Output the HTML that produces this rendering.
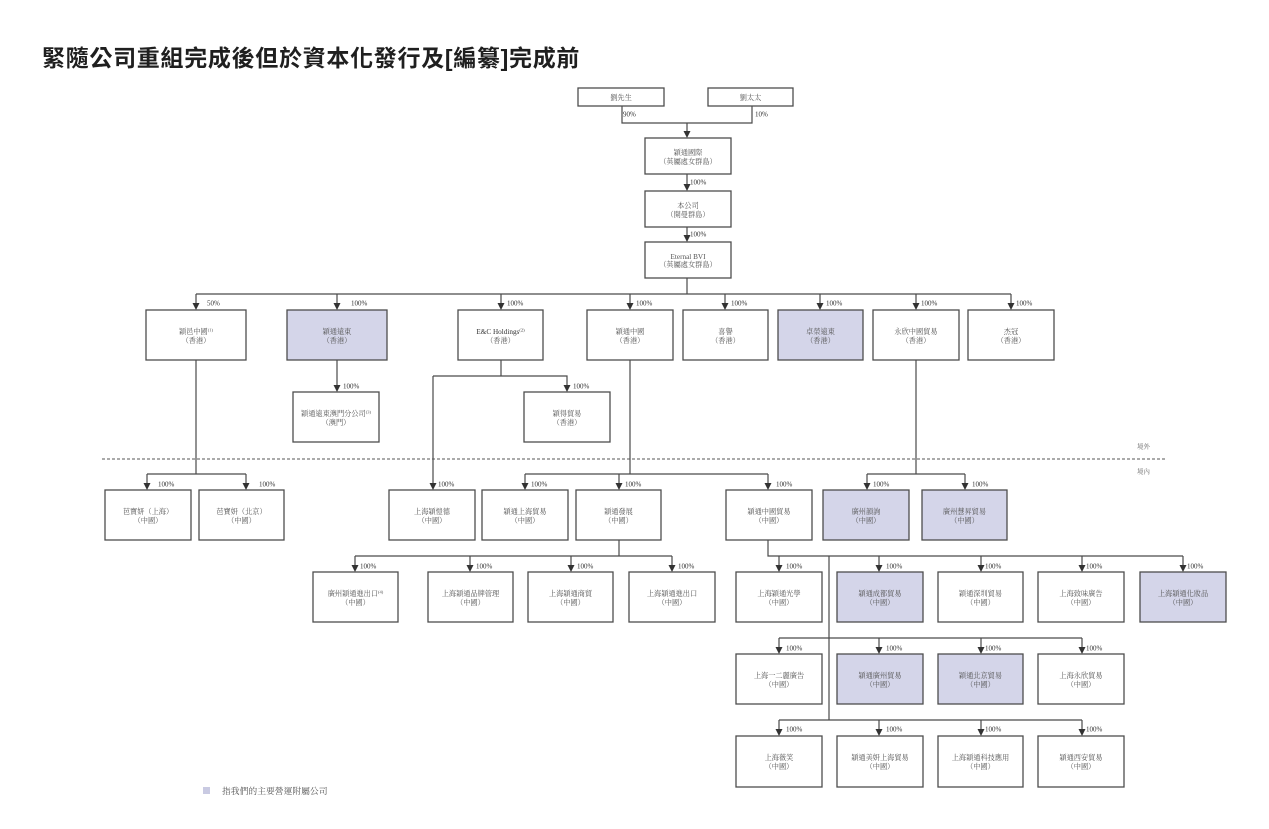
<!DOCTYPE html>
<html>
<head>
<meta charset="utf-8">
<style>
html,body{margin:0;padding:0;background:#fff;}
svg{display:block;}
.t{font-family:"Liberation Serif","Noto Serif CJK TC","Noto Serif CJK SC",serif;font-size:7.2px;fill:#555;text-anchor:middle;}
.p{font-family:"Liberation Serif","Noto Serif CJK SC",serif;font-size:7px;fill:#333;}
.z{font-family:"Liberation Serif","Noto Serif CJK TC","Noto Serif CJK SC",serif;font-size:6.5px;fill:#666;}
.b{fill:#fff;stroke:#4d4d4d;stroke-width:1.3;}
.s{fill:#d4d5e9;stroke:#4d4d4d;stroke-width:1.3;}
.l{fill:none;stroke:#4a4a4a;stroke-width:1.2;}
.a{fill:#333;}
</style>
</head>
<body>
<svg width="1269" height="829" viewBox="0 0 1269 829" xmlns="http://www.w3.org/2000/svg">
<rect width="1269" height="829" fill="#fff"/>
<text x="42" y="66" style="font-family:'Liberation Sans','Noto Sans CJK TC',sans-serif;font-weight:bold;font-size:23px;letter-spacing:0.7px;fill:#1f1f1f;">緊隨公司重組完成後但於資本化發行及[編纂]完成前</text>

<!-- connector lines -->
<path class="l" d="M622 106V123H752V106 M687 123V131 M687 174V184 M687 227V235 M687 278V294 M196 294H1011
M196 294V303 M337 294V303 M501 294V303 M630 294V303 M725 294V303 M820 294V303 M916 294V303 M1011 294V303
M337 360V385 M501 360V376 M433 376H567V385 M433 376V483
M196 360V474 M147 474H246 M147 474V483 M246 474V483
M630 360V474 M525 474H768 M525 474V483 M619 474V483 M768 474V483
M916 360V474 M867 474H965 M867 474V483 M965 474V483
M619 540V556 M355 556H672 M355 556V565 M470 556V565 M571 556V565 M672 556V565
M768 540V556H1183 M779 556V565 M879 556V565 M981 556V565 M1082 556V565 M1183 556V565
M829 556V720
M779 638H1082 M779 638V647 M879 638V647 M981 638V647 M1082 638V647
M779 720H1082 M779 720V729 M879 720V729 M981 720V729 M1082 720V729"/>

<!-- dashed line -->
<line x1="102" y1="459" x2="1167" y2="459" stroke="#555" stroke-width="1" stroke-dasharray="3,2"/>
<text class="z" x="1137" y="448.5">境外</text>
<text class="z" x="1137" y="473.5">境內</text>

<!-- arrowheads -->
<g class="a">
<polygon points="683.5,131 690.5,131 687,138"/>
<polygon points="683.5,184 690.5,184 687,191"/>
<polygon points="683.5,235 690.5,235 687,242"/>
<polygon points="192.5,303 199.5,303 196,310"/>
<polygon points="333.5,303 340.5,303 337,310"/>
<polygon points="497.5,303 504.5,303 501,310"/>
<polygon points="626.5,303 633.5,303 630,310"/>
<polygon points="721.5,303 728.5,303 725,310"/>
<polygon points="816.5,303 823.5,303 820,310"/>
<polygon points="912.5,303 919.5,303 916,310"/>
<polygon points="1007.5,303 1014.5,303 1011,310"/>
<polygon points="333.5,385 340.5,385 337,392"/>
<polygon points="563.5,385 570.5,385 567,392"/>
<polygon points="429.5,483 436.5,483 433,490"/>
<polygon points="143.5,483 150.5,483 147,490"/>
<polygon points="242.5,483 249.5,483 246,490"/>
<polygon points="521.5,483 528.5,483 525,490"/>
<polygon points="615.5,483 622.5,483 619,490"/>
<polygon points="764.5,483 771.5,483 768,490"/>
<polygon points="863.5,483 870.5,483 867,490"/>
<polygon points="961.5,483 968.5,483 965,490"/>
<polygon points="351.5,565 358.5,565 355,572"/>
<polygon points="466.5,565 473.5,565 470,572"/>
<polygon points="567.5,565 574.5,565 571,572"/>
<polygon points="668.5,565 675.5,565 672,572"/>
<polygon points="775.5,565 782.5,565 779,572"/>
<polygon points="875.5,565 882.5,565 879,572"/>
<polygon points="977.5,565 984.5,565 981,572"/>
<polygon points="1078.5,565 1085.5,565 1082,572"/>
<polygon points="1179.5,565 1186.5,565 1183,572"/>
<polygon points="775.5,647 782.5,647 779,654"/>
<polygon points="875.5,647 882.5,647 879,654"/>
<polygon points="977.5,647 984.5,647 981,654"/>
<polygon points="1078.5,647 1085.5,647 1082,654"/>
<polygon points="775.5,729 782.5,729 779,736"/>
<polygon points="875.5,729 882.5,729 879,736"/>
<polygon points="977.5,729 984.5,729 981,736"/>
<polygon points="1078.5,729 1085.5,729 1082,736"/>
</g>

<!-- percentage labels -->
<g class="p">
<text x="623" y="116.5">90%</text>
<text x="755" y="116.5">10%</text>
<text x="690" y="184.5">100%</text>
<text x="690" y="236.5">100%</text>
<text x="207" y="305.5">50%</text>
<text x="351" y="305.5">100%</text>
<text x="507" y="305.5">100%</text>
<text x="636" y="305.5">100%</text>
<text x="731" y="305.5">100%</text>
<text x="826" y="305.5">100%</text>
<text x="921" y="305.5">100%</text>
<text x="1016" y="305.5">100%</text>
<text x="343" y="388.5">100%</text>
<text x="573" y="388.5">100%</text>
<text x="158" y="486.5">100%</text>
<text x="259" y="486.5">100%</text>
<text x="438" y="486.5">100%</text>
<text x="531" y="486.5">100%</text>
<text x="625" y="486.5">100%</text>
<text x="776" y="486.5">100%</text>
<text x="873" y="486.5">100%</text>
<text x="972" y="486.5">100%</text>
<text x="360" y="568.5">100%</text>
<text x="476" y="568.5">100%</text>
<text x="577" y="568.5">100%</text>
<text x="678" y="568.5">100%</text>
<text x="786" y="568.5">100%</text>
<text x="886" y="568.5">100%</text>
<text x="985" y="568.5">100%</text>
<text x="1086" y="568.5">100%</text>
<text x="1187" y="568.5">100%</text>
<text x="786" y="650.5">100%</text>
<text x="886" y="650.5">100%</text>
<text x="985" y="650.5">100%</text>
<text x="1086" y="650.5">100%</text>
<text x="786" y="731.5">100%</text>
<text x="886" y="731.5">100%</text>
<text x="985" y="731.5">100%</text>
<text x="1086" y="731.5">100%</text>
</g>

<!-- boxes -->
<rect class="b" x="578" y="88" width="86" height="18"/>
<text class="t" x="621" y="100">劉先生</text>
<rect class="b" x="708" y="88" width="85" height="18"/>
<text class="t" x="750.5" y="100">劉太太</text>

<rect class="b" x="645" y="138" width="86" height="36"/>
<text class="t" x="688" y="155">穎通國際</text>
<text class="t" x="688" y="164">（英屬處女群島）</text>
<rect class="b" x="645" y="191" width="86" height="36"/>
<text class="t" x="688" y="208">本公司</text>
<text class="t" x="688" y="217">（開曼群島）</text>
<rect class="b" x="645" y="242" width="86" height="36"/>
<text class="t" x="688" y="259">Eternal BVI</text>
<text class="t" x="688" y="267">（英屬處女群島）</text>

<!-- row 2 -->
<rect class="b" x="146" y="310" width="100" height="50"/>
<text class="t" x="196" y="334">穎邑中國<tspan font-size="4.5" dy="-2.5">(1)</tspan></text>
<text class="t" x="196" y="343">（香港）</text>
<rect class="s" x="287" y="310" width="100" height="50"/>
<text class="t" x="337" y="334">穎通遠東</text>
<text class="t" x="337" y="343">（香港）</text>
<rect class="b" x="458" y="310" width="85" height="50"/>
<text class="t" x="500.5" y="334" style="fill:#333">E&amp;C Holdings<tspan font-size="4.5" dy="-2.5">(2)</tspan></text>
<text class="t" x="500.5" y="343">（香港）</text>
<rect class="b" x="587" y="310" width="86" height="50"/>
<text class="t" x="630" y="334">穎通中國</text>
<text class="t" x="630" y="343">（香港）</text>
<rect class="b" x="683" y="310" width="85" height="50"/>
<text class="t" x="725.5" y="334">喜譽</text>
<text class="t" x="725.5" y="343">（香港）</text>
<rect class="s" x="778" y="310" width="85" height="50"/>
<text class="t" x="820.5" y="334">卓榮遠東</text>
<text class="t" x="820.5" y="343">（香港）</text>
<rect class="b" x="873" y="310" width="86" height="50"/>
<text class="t" x="916" y="334">永欣中國貿易</text>
<text class="t" x="916" y="343">（香港）</text>
<rect class="b" x="968" y="310" width="86" height="50"/>
<text class="t" x="1011" y="334">杰冠</text>
<text class="t" x="1011" y="343">（香港）</text>

<!-- row 2.5 -->
<rect class="b" x="293" y="392" width="86" height="50"/>
<text class="t" x="336" y="416">穎通遠東澳門分公司<tspan font-size="4.5" dy="-2.5">(3)</tspan></text>
<text class="t" x="336" y="425">（澳門）</text>
<rect class="b" x="524" y="392" width="86" height="50"/>
<text class="t" x="567" y="416">穎得貿易</text>
<text class="t" x="567" y="425">（香港）</text>

<!-- row 3 -->
<rect class="b" x="105" y="490" width="86" height="50"/>
<text class="t" x="148" y="514">芭寶妍（上海）</text>
<text class="t" x="148" y="523">（中國）</text>
<rect class="b" x="199" y="490" width="85" height="50"/>
<text class="t" x="241.5" y="514">芭寶妍（北京）</text>
<text class="t" x="241.5" y="523">（中國）</text>
<rect class="b" x="389" y="490" width="86" height="50"/>
<text class="t" x="432" y="514">上海穎愷德</text>
<text class="t" x="432" y="523">（中國）</text>
<rect class="b" x="482" y="490" width="86" height="50"/>
<text class="t" x="525" y="514">穎通上海貿易</text>
<text class="t" x="525" y="523">（中國）</text>
<rect class="b" x="576" y="490" width="85" height="50"/>
<text class="t" x="618.5" y="514">穎通發展</text>
<text class="t" x="618.5" y="523">（中國）</text>
<rect class="b" x="726" y="490" width="86" height="50"/>
<text class="t" x="769" y="514">穎通中國貿易</text>
<text class="t" x="769" y="523">（中國）</text>
<rect class="s" x="823" y="490" width="86" height="50"/>
<text class="t" x="866" y="514">廣州韻詢</text>
<text class="t" x="866" y="523">（中國）</text>
<rect class="s" x="922" y="490" width="85" height="50"/>
<text class="t" x="964.5" y="514">廣州慧昇貿易</text>
<text class="t" x="964.5" y="523">（中國）</text>

<!-- row 4 -->
<rect class="b" x="313" y="572" width="85" height="50"/>
<text class="t" x="355.5" y="596">廣州穎通進出口<tspan font-size="4.5" dy="-2.5">(4)</tspan></text>
<text class="t" x="355.5" y="605">（中國）</text>
<rect class="b" x="428" y="572" width="85" height="50"/>
<text class="t" x="470.5" y="596">上海穎通品牌管理</text>
<text class="t" x="470.5" y="605">（中國）</text>
<rect class="b" x="528" y="572" width="85" height="50"/>
<text class="t" x="570.5" y="596">上海穎通商貿</text>
<text class="t" x="570.5" y="605">（中國）</text>
<rect class="b" x="629" y="572" width="86" height="50"/>
<text class="t" x="672" y="596">上海穎通進出口</text>
<text class="t" x="672" y="605">（中國）</text>
<rect class="b" x="736" y="572" width="86" height="50"/>
<text class="t" x="779" y="596">上海穎通光學</text>
<text class="t" x="779" y="605">（中國）</text>
<rect class="s" x="837" y="572" width="86" height="50"/>
<text class="t" x="880" y="596">穎通成都貿易</text>
<text class="t" x="880" y="605">（中國）</text>
<rect class="b" x="938" y="572" width="85" height="50"/>
<text class="t" x="980.5" y="596">穎通深圳貿易</text>
<text class="t" x="980.5" y="605">（中國）</text>
<rect class="b" x="1038" y="572" width="86" height="50"/>
<text class="t" x="1081" y="596">上海致味廣告</text>
<text class="t" x="1081" y="605">（中國）</text>
<rect class="s" x="1140" y="572" width="86" height="50"/>
<text class="t" x="1183" y="596">上海穎通化妝品</text>
<text class="t" x="1183" y="605">（中國）</text>

<!-- row 5 -->
<rect class="b" x="736" y="654" width="86" height="50"/>
<text class="t" x="779" y="678">上海一二麗廣告</text>
<text class="t" x="779" y="687">（中國）</text>
<rect class="s" x="837" y="654" width="86" height="50"/>
<text class="t" x="880" y="678">穎通廣州貿易</text>
<text class="t" x="880" y="687">（中國）</text>
<rect class="s" x="938" y="654" width="85" height="50"/>
<text class="t" x="980.5" y="678">穎通北京貿易</text>
<text class="t" x="980.5" y="687">（中國）</text>
<rect class="b" x="1038" y="654" width="86" height="50"/>
<text class="t" x="1081" y="678">上海永欣貿易</text>
<text class="t" x="1081" y="687">（中國）</text>

<!-- row 6 -->
<rect class="b" x="736" y="736" width="86" height="51"/>
<text class="t" x="779" y="760">上海薇笑</text>
<text class="t" x="779" y="769">（中國）</text>
<rect class="b" x="837" y="736" width="86" height="51"/>
<text class="t" x="880" y="760">穎通美妍上海貿易</text>
<text class="t" x="880" y="769">（中國）</text>
<rect class="b" x="938" y="736" width="85" height="51"/>
<text class="t" x="980.5" y="760">上海穎通科技應用</text>
<text class="t" x="980.5" y="769">（中國）</text>
<rect class="b" x="1038" y="736" width="86" height="51"/>
<text class="t" x="1081" y="760">穎通西安貿易</text>
<text class="t" x="1081" y="769">（中國）</text>

<!-- legend -->
<rect x="203" y="787" width="7" height="7" fill="#c9cae2"/>
<text x="222" y="794" style="font-family:'Liberation Serif','Noto Serif CJK TC','Noto Serif CJK SC',serif;font-size:8.8px;fill:#555;">指我們的主要營運附屬公司</text>
</svg>
</body>
</html>
